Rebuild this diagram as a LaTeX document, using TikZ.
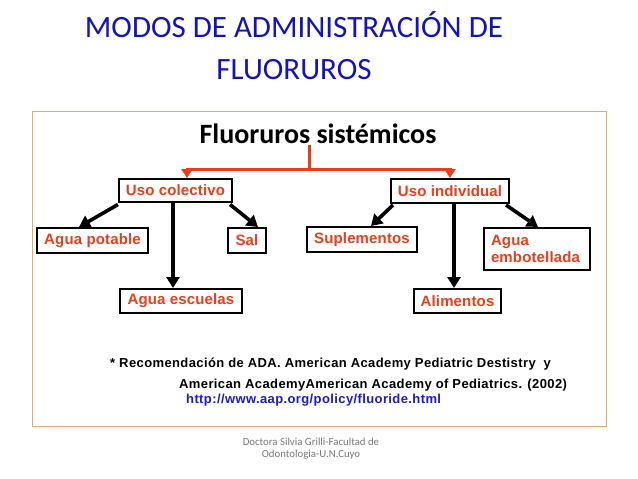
\documentclass[tikz,border=0pt]{standalone}
\usepackage{fontspec}
\setmainfont{Carlito}
\newfontfamily\boxfont[LetterSpace=1]{Liberation Sans}
\newfontfamily\notefont[LetterSpace=3]{Liberation Sans}
\usetikzlibrary{arrows.meta,calc}
\definecolor{titleblue}{RGB}{18,18,190}
\definecolor{boxred}{RGB}{232,62,26}
\definecolor{frameor}{RGB}{228,172,100}
\definecolor{linkblue}{RGB}{26,26,210}
\definecolor{footgray}{RGB}{120,120,120}
\tikzset{
  x=1pt,y=-1pt,
  leaf/.style={draw=black,line width=2pt,fill=white,inner sep=0pt,
    font=\boxfont\bfseries\fontsize{15}{17}\selectfont,text=boxred,
    minimum height=24pt,align=center},
  blk/.style={draw=black,line width=3.6pt,-{Triangle[length=11pt,width=13pt]}},
  redl/.style={draw=boxred,line width=3pt},
  reda/.style={draw=boxred,line width=3pt,-{Triangle[length=9pt,width=11pt]}},
  note/.style={font=\notefont\bfseries\fontsize{13}{15}\selectfont,anchor=west,inner sep=0pt}
}
\begin{document}
\begin{tikzpicture}
\useasboundingbox (0,0) rectangle (638,479);
\fill[white] (0,0) rectangle (638,479);
% title
\node[text=titleblue,font=\fontsize{31}{42}\selectfont,align=center] (title) at (294,46)
  {MODOS DE ADMINISTRACIÓN DE\\FLUORUROS};
% frame
\draw[frameor,line width=1pt] (32,111) rectangle (606,426);
\node[font=\bfseries\fontsize{28}{30}\selectfont] (fs) at (318,134) {Fluoruros sistémicos};
% nodes
\node[leaf,minimum width=113pt,minimum height=23pt] (uc) at (175.5,190.5) {Uso colectivo};
\node[leaf,minimum width=118pt] (ui) at (450,191) {Uso individual};
\node[leaf,minimum width=111pt,minimum height=25pt] (ap) at (92.5,240.5) {Agua potable};
\node[leaf,minimum width=38pt,minimum height=25pt] (sal) at (247,240.5) {Sal};
\node[leaf,minimum width=122pt] (ae) at (181,301) {Agua escuelas};
\node[leaf,minimum width=110pt,minimum height=25pt] (sup) at (362,239.5) {Suplementos};
\node[leaf,minimum width=87pt] (al) at (457.5,301) {Alimentos};
\node[leaf,minimum width=106pt,minimum height=42pt,align=left,
  font=\boxfont\bfseries\fontsize{15}{17}\selectfont,text width=92pt] (emb) at (537,249) {Agua\\embotellada};
% red connectors
\coordinate (top) at (309,145);
\coordinate (j) at (309,169);
\draw[redl] (top) -- (j);
\draw[reda] (j) -| ($(uc.north)+(11.5,0)$);
\draw[reda] (j) -| (ui.north);
% black arrows
\draw[blk] ($(uc.south west)+(0,1.5)$) -- ($(ap.north)+(-13.5,0)$);
\draw[blk] ($(uc.south)+(-2.5,0)$) -- ($(ae.north)+(-8,0)$);
\draw[blk] ($(uc.south east)+(-3,1.5)$) -- ($(sal.north)+(11,0)$);
\draw[blk] ($(ui.south west)+(3,1)$) -- ($(sup.north)+(9,0)$);
\draw[blk] ($(ui.south)+(4,0)$) -- ($(al.north)+(-3.5,0)$);
\draw[blk] ($(ui.south east)+(-4,1)$) -- ($(emb.north)+(1,0)$);
% notes
\node[note] (n1) at (110,364) {* Recomendación de ADA. American Academy Pediatric Destistry\ \ y};
\node[note] (n2) at (179,385) {American AcademyAmerican Academy of Pediatrics. (2002)};
\node[note,text=linkblue] (n3) at (186,400) {http://www.aap.org/policy/fluoride.html};
% footer
\node[text=footgray,font=\fontsize{10.8}{12}\selectfont,align=center] (foot) at (311,449)
  {Doctora Silvia Grilli-Facultad de\\Odontologia-U.N.Cuyo};
\end{tikzpicture}
\end{document}
